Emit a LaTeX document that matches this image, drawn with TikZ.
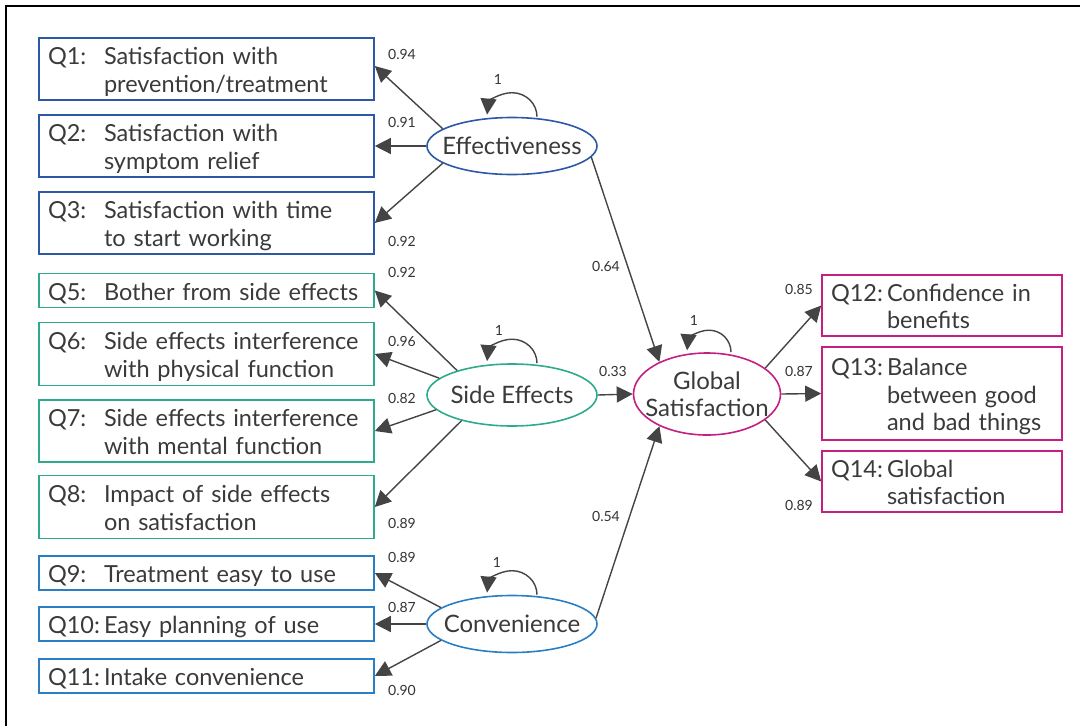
\documentclass[tikz,border=0pt]{standalone}
\usepackage{fontspec}
\setmainfont{Lato}
\usetikzlibrary{shapes.geometric,arrows.meta}
\definecolor{txt}{HTML}{3A3A3A}
\definecolor{numc}{HTML}{333333}
\definecolor{linec}{HTML}{444444}
\definecolor{effblue}{HTML}{2C58A5}
\definecolor{sideteal}{HTML}{2EAA8C}
\definecolor{convblue}{HTML}{2A7FC4}
\definecolor{globmag}{HTML}{C41F82}
\newcommand\qtext[2]{\makebox[56pt][l]{#1}\begin{tabular}[t]{@{}l@{}}#2\end{tabular}}
\begin{document}
\begin{tikzpicture}[x=1pt,y=-1pt,
  every node/.style={text=txt},
  qb/.style={draw=#1, line width=1.6pt, rectangle, minimum width=335pt, text width=317pt,
    inner xsep=9pt, inner ysep=0pt, align=left, font=\fontsize{23.5}{28}\selectfont,
    text height=23.6pt},
  one/.style={text depth=4.4pt},
  two/.style={text depth=32.4pt},
  rb/.style={draw=#1, line width=1.6pt, rectangle, minimum width=240pt, text width=222pt,
    inner xsep=9pt, inner ysep=0pt, align=left, font=\fontsize{23.5}{27.5}\selectfont,
    text height=23.25pt},
  rtwo/.style={text depth=31.75pt},
  rthree/.style={text depth=59.25pt},
  lv/.style={draw=#1, ellipse, line width=1.6pt, minimum width=170pt, minimum height=57pt,
    inner sep=-30pt, font=\fontsize{24}{27}\selectfont, align=center},
  num/.style={font=\fontsize{14}{16}\selectfont, inner sep=0pt, text=numc},
  arr/.style={draw=linec, line width=1.4pt, -{Triangle[length=16pt,width=16pt]}}]
\useasboundingbox (0,0) rectangle (1080,726);
\draw[line width=2pt] (6,726) -- (6,6) -- (1080,6);

% left boxes
\node[qb=effblue, two, minimum height=62pt] (q1) at (206.5,69) {\qtext{Q1:}{Satisfaction with\\prevention/treatment}};
\node[qb=effblue, two, minimum height=62pt] (q2) at (206.5,146) {\qtext{Q2:}{Satisfaction with\\symptom relief}};
\node[qb=effblue, two, minimum height=62pt] (q3) at (206.5,223) {\qtext{Q3:}{Satisfaction with time\\to start working}};
\node[qb=sideteal, one, minimum height=34pt] (q5) at (206.5,290.5) {\qtext{Q5:}{Bother from side effects}};
\node[qb=sideteal, two, minimum height=63pt] (q6) at (206.5,354) {\qtext{Q6:}{Side effects interference\\with physical function}};
\node[qb=sideteal, two, minimum height=62pt] (q7) at (206.5,431) {\qtext{Q7:}{Side effects interference\\with mental function}};
\node[qb=sideteal, two, minimum height=63pt] (q8) at (206.5,507) {\qtext{Q8:}{Impact of side effects\\on satisfaction}};
\node[qb=convblue, one, minimum height=34pt] (q9) at (206.5,573) {\qtext{Q9:}{Treatment easy to use}};
\node[qb=convblue, one, minimum height=34pt] (q10) at (206.5,624) {\qtext{Q10:}{Easy planning of use}};
\node[qb=convblue, one, minimum height=34pt] (q11) at (206.5,676) {\qtext{Q11:}{Intake convenience}};

% right boxes
\node[rb=globmag, rtwo, minimum height=61pt] (q12) at (942,305.5) {\qtext{Q12:}{Confidence in\\benefits}};
\node[rb=globmag, rthree, minimum height=93pt] (q13) at (942,393.5) {\qtext{Q13:}{Balance\\between good\\and bad things}};
\node[rb=globmag, rtwo, minimum height=61pt] (q14) at (942,481.5) {\qtext{Q14:}{Global\\satisfaction}};

% latent variables
\node[lv=effblue] (eff) at (512,146) {Effectiveness};
\node[lv=sideteal, minimum height=62pt] (side) at (512,395) {Side Effects};
\node[lv=convblue] (conv) at (512,624) {Convenience};
\node[lv=globmag, minimum width=147pt, minimum height=82pt] (glob) at (707,394) {Global\\Satisfaction};

% loadings
\draw[arr] (eff.166) -- ([yshift=3pt]q1.east);
\draw[arr] (eff.west) -- (q2.east);
\draw[arr] (eff.194) -- (q3.east);
\draw[arr] (side.156) -- (q5.east);
\draw[arr] (side.167) -- (q6.east);
\draw[arr] (side.191) -- (q7.east);
\draw[arr] (side.207) -- (q8.east);
\draw[arr] (conv.167) -- (q9.east);
\draw[arr] (conv.west) -- (q10.east);
\draw[arr] (conv.193) -- (q11.east);
\draw[arr] (eff.-8) -- (glob.146);
\draw[arr] (side.east) -- (glob.west);
\draw[arr] (conv.4) -- (glob.214);
\draw[arr] (glob.24) -- (q12.west);
\draw[arr] (glob.east) -- (q13.west);
\draw[arr] (glob.-24) -- (q14.west);

% self loops
\draw[arr] ([xshift=25pt]eff.north) arc[start angle=0,end angle=175,x radius=25pt,y radius=24pt];
\draw[arr] ([xshift=25pt]side.north) arc[start angle=0,end angle=175,x radius=25pt,y radius=24pt];
\draw[arr] ([xshift=25pt]conv.north) arc[start angle=0,end angle=175,x radius=25pt,y radius=24pt];
\draw[arr] ([xshift=24pt]glob.north) arc[start angle=0,end angle=175,x radius=22pt,y radius=22pt];

% labels
\node[num] (n1) at (402,54) {0.94};
\node[num] (n2) at (402,122) {0.91};
\node[num] (n3) at (402,241) {0.92};
\node[num] (n5) at (402,272) {0.92};
\node[num] (n6) at (402,341) {0.96};
\node[num] (n7) at (402,398) {0.82};
\node[num] (n8) at (402,523) {0.89};
\node[num] (n9) at (402,557) {0.89};
\node[num] (n10) at (402,607) {0.87};
\node[num] (n11) at (402,690) {0.90};
\node[num] (ne) at (606,266) {0.64};
\node[num] (ns) at (613,371) {0.33};
\node[num] (nc) at (606,516) {0.54};
\node[num] (n12) at (799,289) {0.85};
\node[num] (n13) at (799,371) {0.87};
\node[num] (n14) at (799,505) {0.89};
\node[num] (s1) at (498,79) {1};
\node[num] (s2) at (499,330) {1};
\node[num] (s3) at (497,562) {1};
\node[num] (s4) at (694,320) {1};
\end{tikzpicture}
\end{document}
